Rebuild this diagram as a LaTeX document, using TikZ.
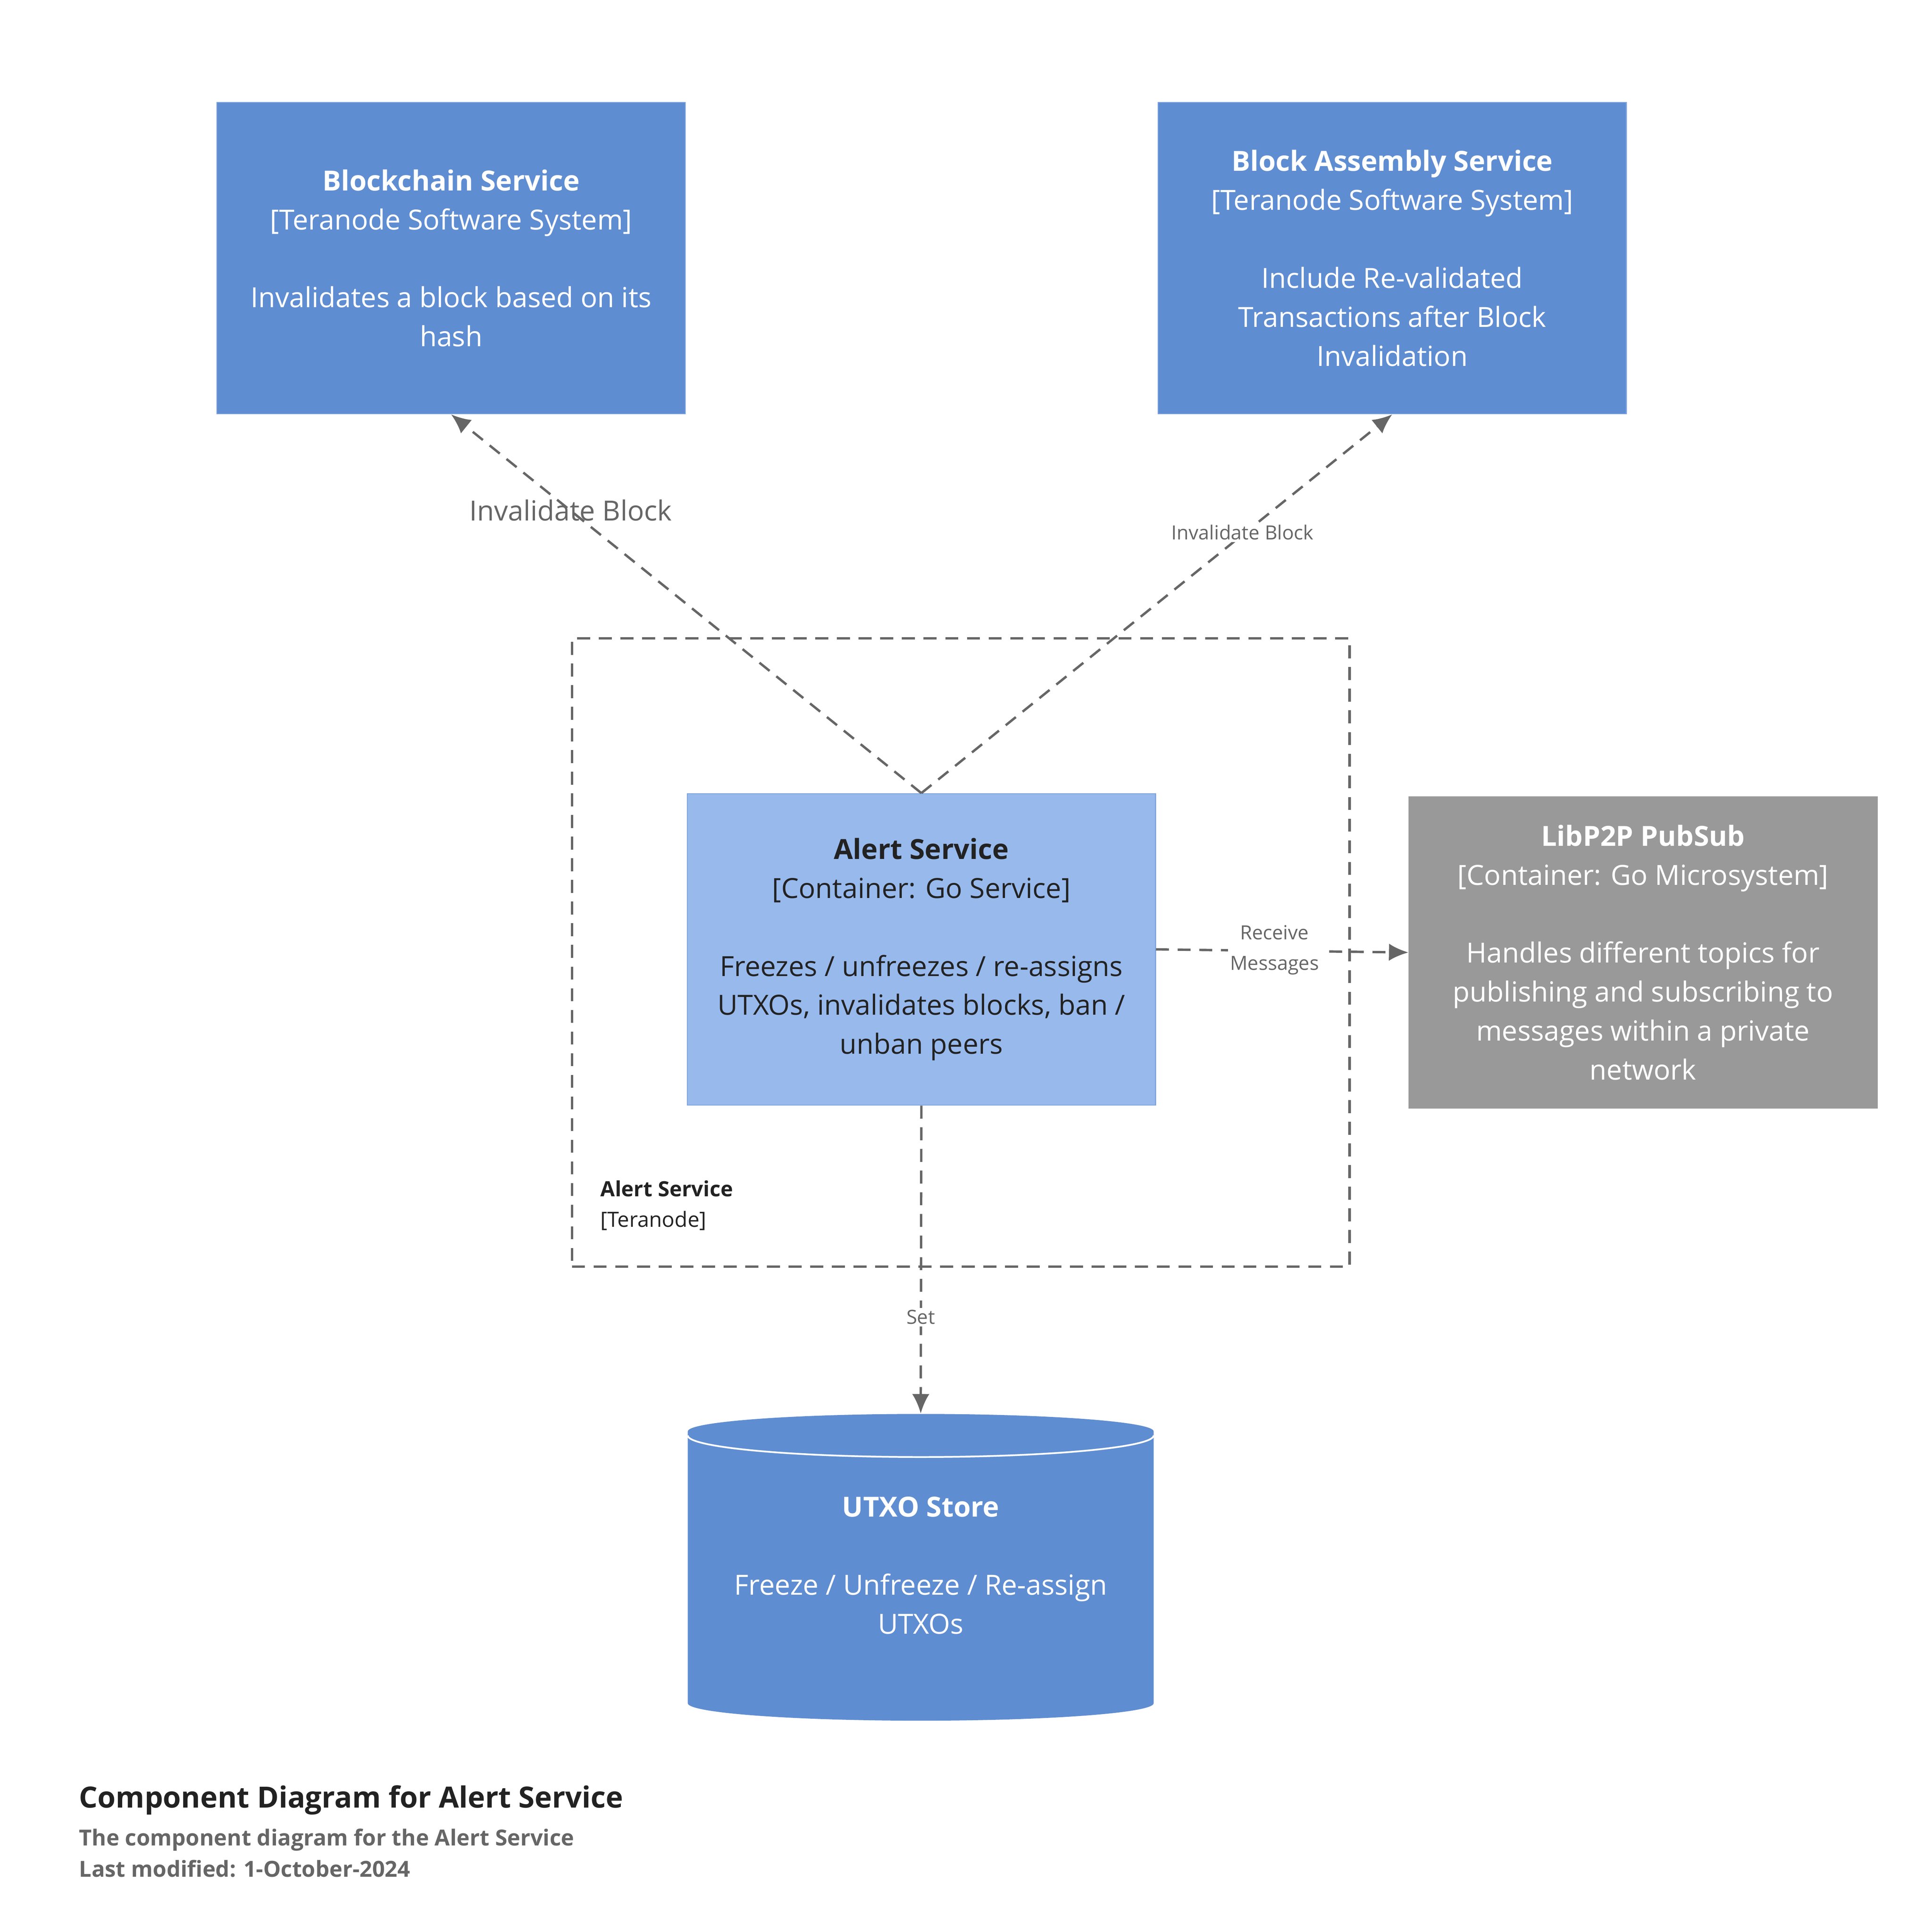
\documentclass[tikz,border=0pt]{standalone}
\usepackage{fontspec}
\setmainfont{Open Sans}
\usetikzlibrary{shapes.geometric,arrows.meta}
\definecolor{extblue}{HTML}{5F8DD2}
\definecolor{extline}{HTML}{7FA3DD}
\definecolor{ctrblue}{HTML}{97B9EC}
\definecolor{ctrline}{HTML}{7FA3DD}
\definecolor{gsys}{HTML}{999999}
\definecolor{rel}{HTML}{666666}
\definecolor{ink}{HTML}{222222}
\begin{document}
\begin{tikzpicture}[
	x=0.02cm, y=-0.02cm,
	system/.style={
		rectangle,
		draw=extline,
		fill=extblue,
		text=white,
		align=center,
		minimum height=5.06cm,
		minimum width=7.6cm,
		font=\fontsize{12.8}{18}\selectfont
	},
	container/.style={
		system,
		draw=ctrline,
		fill=ctrblue,
		text=ink
	},
	external/.style={
		system,
		draw=gsys,
		fill=gsys
	},
	store/.style={
		cylinder,
		shape border rotate=90,
		aspect=0.09,
		fill=extblue,
		text=white,
		align=center,
		minimum width=7.56cm,
		minimum height=4.98cm,
		font=\fontsize{12.8}{18}\selectfont
	},
	relation/.style={
		draw=rel,
		line width=1.1pt,
		dash pattern=on 6pt off 4pt,
		-{Latex[length=9pt,width=8pt]}
	},
	rlabel/.style={
		text=rel,
		align=center,
		font=\fontsize{9}{14}\selectfont
	},
]
\useasboundingbox (0,0) rectangle (1560,1568);

% Boundary
\node[rectangle, draw=rel, line width=1.1pt, dash pattern=on 6pt off 4pt, minimum width=12.62cm, minimum height=10.2cm]
(bound) at (779.5,773) {};
\node[anchor=north west, align=left, text=ink, font=\fontsize{9.7}{14}\selectfont] (boundlbl) at (481,952)
{\textbf{Alert Service}\\\relax [Teranode]};

% Systems
\node[system] (chain) at (366,209.5) {\textbf{Blockchain Service}\\\relax [Teranode Software System]\\[18pt]Invalidates a block based on its\\hash};
\node[system] (assembly) at (1129.5,209.5) {\textbf{Block Assembly Service}\\\relax [Teranode Software System]\\[18pt]Include Re-validated\\Transactions after Block\\Invalidation};

% Container
\node[container] (alert) at (747.5,770.5) {\textbf{Alert Service}\\\relax [Container: Go Service]\\[18pt]Freezes / unfreezes / re-assigns\\UTXOs, invalidates blocks, ban /\\unban peers};

\node[external] (p2p) at (1333,773) {\textbf{LibP2P PubSub}\\\relax [Container: Go Microsystem]\\[18pt]Handles different topics for\\publishing and subscribing to\\messages within a private\\network};

% Store
\node[store] (utxo) at (747,1281) {\textbf{UTXO Store}\\[18pt]Freeze / Unfreeze / Re-assign\\UTXOs\\[-6pt]\mbox{}};
\draw[white, thick] (558,1165) arc[start angle=180, end angle=360, x radius=189, y radius=-17.5];

% Relations
\draw[relation] (alert.north) -- (chain.south);
\node[rlabel, font=\fontsize{12.8}{18}\selectfont] (lbl1) at (463,414) {Invalidate Block};
\draw[relation] (alert.north) -- (assembly.south);
\node[rlabel, fill=white, inner sep=1pt] (lbl2) at (1008,432) {Invalidate Block};
\draw[relation] (alert.east) -- (p2p.west);
\node[rlabel, fill=white, inner sep=1pt] (lbl3) at (1034,771) {Receive\\Messages};
\draw[relation] (alert.south) -- (utxo.north);
\node[rlabel, fill=white, inner sep=1pt] (lbl4) at (747,1069) {Set};

% Title
\node[anchor=west, text=ink, font=\fontsize{13.5}{16}\bfseries] (title) at (58,1461) {Component Diagram for Alert Service};
\node[anchor=north west, align=left, text=rel, font=\fontsize{10.2}{14.5}\bfseries] (sub) at (58,1478)
{The component diagram for the Alert Service\\Last modified: 1-October-2024};
\end{tikzpicture}
\end{document}
